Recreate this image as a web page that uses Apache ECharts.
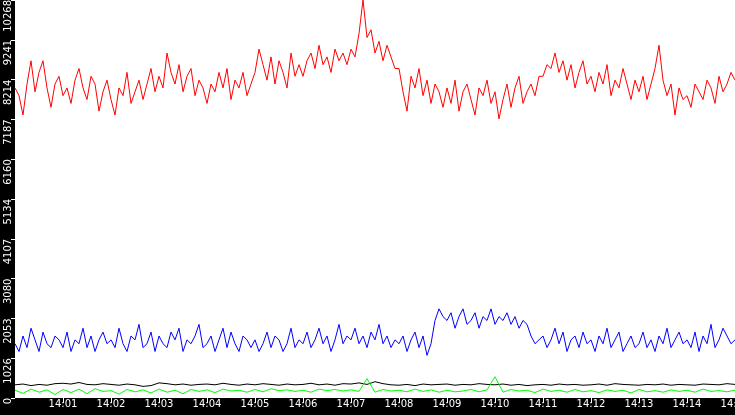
<!DOCTYPE html>
<html><head><meta charset="utf-8">
<script src="https://cdn.jsdelivr.net/npm/echarts@6/dist/echarts.min.js"></script>
<style>html,body{margin:0;padding:0;background:#000}#c{width:735px;height:415px}</style>
</head><body><div id="c"></div>
<script>
const yTicks = [0,1026,2053,3080,4107,5134,6160,7187,8214,9241,10268];
const xLabels = ['14:00','14:01','14:02','14:03','14:04','14:05','14:06','14:07','14:08','14:09','14:10','14:11','14:12','14:13','14:14','14:15'];
const redStep = 5, blueStep = 5, blackStep = 10, greenStep = 10;
const red = [
8000,7800,7300,8100,8700,7900,8400,8700,8000,7500,8100,8300,
7800,8000,7600,8200,8500,8000,7700,8300,8100,7400,7900,8200,
7700,7300,8000,7800,8400,7600,7900,8200,7700,8100,8500,7900,
8300,8000,8900,8400,8100,8600,7900,8300,8500,7800,8200,8000,
7600,8100,7900,8400,8000,8500,7700,8200,8000,8400,7800,8100,
8400,9000,8600,8200,8800,8100,8700,8400,8000,8900,8300,8600,
8300,8700,8900,8500,9100,8600,8800,8400,9000,8700,8900,8600,
9000,8800,9400,10268,9300,9500,8900,9200,8700,9100,8800,8500,
8500,7900,7400,8300,8000,8500,7800,8200,7600,8100,7900,7500,
8000,7600,8200,7400,7900,8100,7700,7300,8000,7800,8200,7600,
7900,7200,7700,8100,7500,8000,8300,7600,7900,8100,7800,8300,
8300,8600,8500,8900,8400,8700,8200,8600,8000,8400,8700,8100,
8300,7900,8400,8100,8600,7800,8200,8000,8500,8100,7700,8200,
7900,8300,7700,8100,8500,9100,8200,7800,8100,7300,8000,7700,
7800,7500,8100,7900,7700,8200,8000,7600,8300,7900,8100,8400,8200];
const blue = [
1400,1200,1600,1300,1800,1500,1200,1700,1400,1300,1600,1500,
1300,1700,1200,1500,1400,1800,1300,1600,1200,1500,1700,1400,
1500,1300,1800,1400,1200,1600,1500,1900,1300,1400,1700,1200,
1600,1400,1300,1700,1500,1800,1200,1500,1400,1600,1900,1300,
1400,1600,1200,1500,1800,1300,1700,1400,1200,1600,1500,1300,
1500,1200,1400,1700,1300,1600,1500,1200,1400,1800,1300,1500,
1400,1700,1300,1500,1800,1400,1600,1200,1500,1900,1400,1600,
1500,1800,1400,1600,1300,1700,1500,1900,1400,1600,1300,1500,
1400,1600,1200,1500,1700,1300,1600,1100,1400,2000,2300,2100,
2000,2200,1800,2100,2300,1900,2000,2200,1800,2100,2000,2300,
1900,2100,2000,2200,1900,2100,1800,2000,1900,1600,1400,1500,
1600,1300,1500,1800,1400,1700,1200,1500,1600,1300,1700,1400,
1500,1200,1600,1400,1800,1300,1500,1700,1200,1400,1600,1300,
1400,1700,1300,1500,1200,1600,1400,1800,1300,1500,1700,1400,
1500,1300,1700,1200,1600,1400,1900,1300,1500,1800,1600,1400,1500];
const black = [
340,360,320,350,330,370, 380,360,400,350,340,370, 350,330,360,340,300,320,
390,370,340,360,330,350, 360,340,380,350,330,360, 340,370,350,330,360,340,
350,380,340,360,330,370, 360,390,350,420,370,340, 330,350,320,360,340,350,
360,330,350,340,370,350, 340,360,330,350,320,340, 350,330,360,340,350,330,
340,360,330,370,350,340, 330,350,340,360,330,350, 340,330,360,350,340,370,350];
const green = [
200,120,230,150,210,90, 220,140,230,110,240,170, 190,100,220,160,210,130,
230,150,200,110,220,170, 210,140,230,180,200,150, 220,160,240,190,210,170,
200,150,230,190,220,180, 210,170,500,150,220,180, 200,160,230,170,210,150,
200,160,180,220,160,210, 550,150,220,180,200,140, 230,170,200,150,220,160,
190,140,210,170,200,130, 220,160,190,150,210,170, 200,150,230,170,190,160,200];
const ser = (arr, step) => arr.map((v,i)=>[i*step, v]);
const chart = echarts.init(document.getElementById('c'));
chart.setOption({
  backgroundColor:'#000',
  animation:false,
  grid:{left:15, right:0, top:0, bottom:17, show:true, backgroundColor:'#fff', borderWidth:0, containLabel:false, outerBoundsMode:'none'},
  xAxis:{type:'value', min:0, max:900, interval:60,
    axisLine:{show:false}, splitLine:{show:false},
    axisTick:{show:true, length:5, inside:false, lineStyle:{color:'#fff'}},
    axisLabel:{color:'#fff', fontFamily:'DejaVu Sans', fontSize:10, margin:1, showMinLabel:false, formatter:v=>xLabels[Math.round(v/60)]}},
  yAxis:{type:'value', min:0, max:10268, interval:1026.8,
    axisLine:{show:false}, splitLine:{show:false},
    axisTick:{show:true, length:4, lineStyle:{color:'#fff'}},
    axisLabel:{color:'#fff', fontFamily:'DejaVu Sans', fontSize:10, rotate:90, margin:2, align:'right', verticalAlign:'bottom',
      formatter:v=>String(yTicks[Math.round(v/1026.8)])}},
  series:[
    {type:'line', data:ser(red,redStep), showSymbol:false, lineStyle:{color:'#ff0000', width:1}},
    {type:'line', data:ser(blue,blueStep), showSymbol:false, lineStyle:{color:'#0000ff', width:1}},
    {type:'line', data:ser(black,blackStep), showSymbol:false, lineStyle:{color:'#000', width:1}},
    {type:'line', data:ser(green,greenStep), showSymbol:false, lineStyle:{color:'#00ff00', width:1}}
  ]
});
</script></body></html>
